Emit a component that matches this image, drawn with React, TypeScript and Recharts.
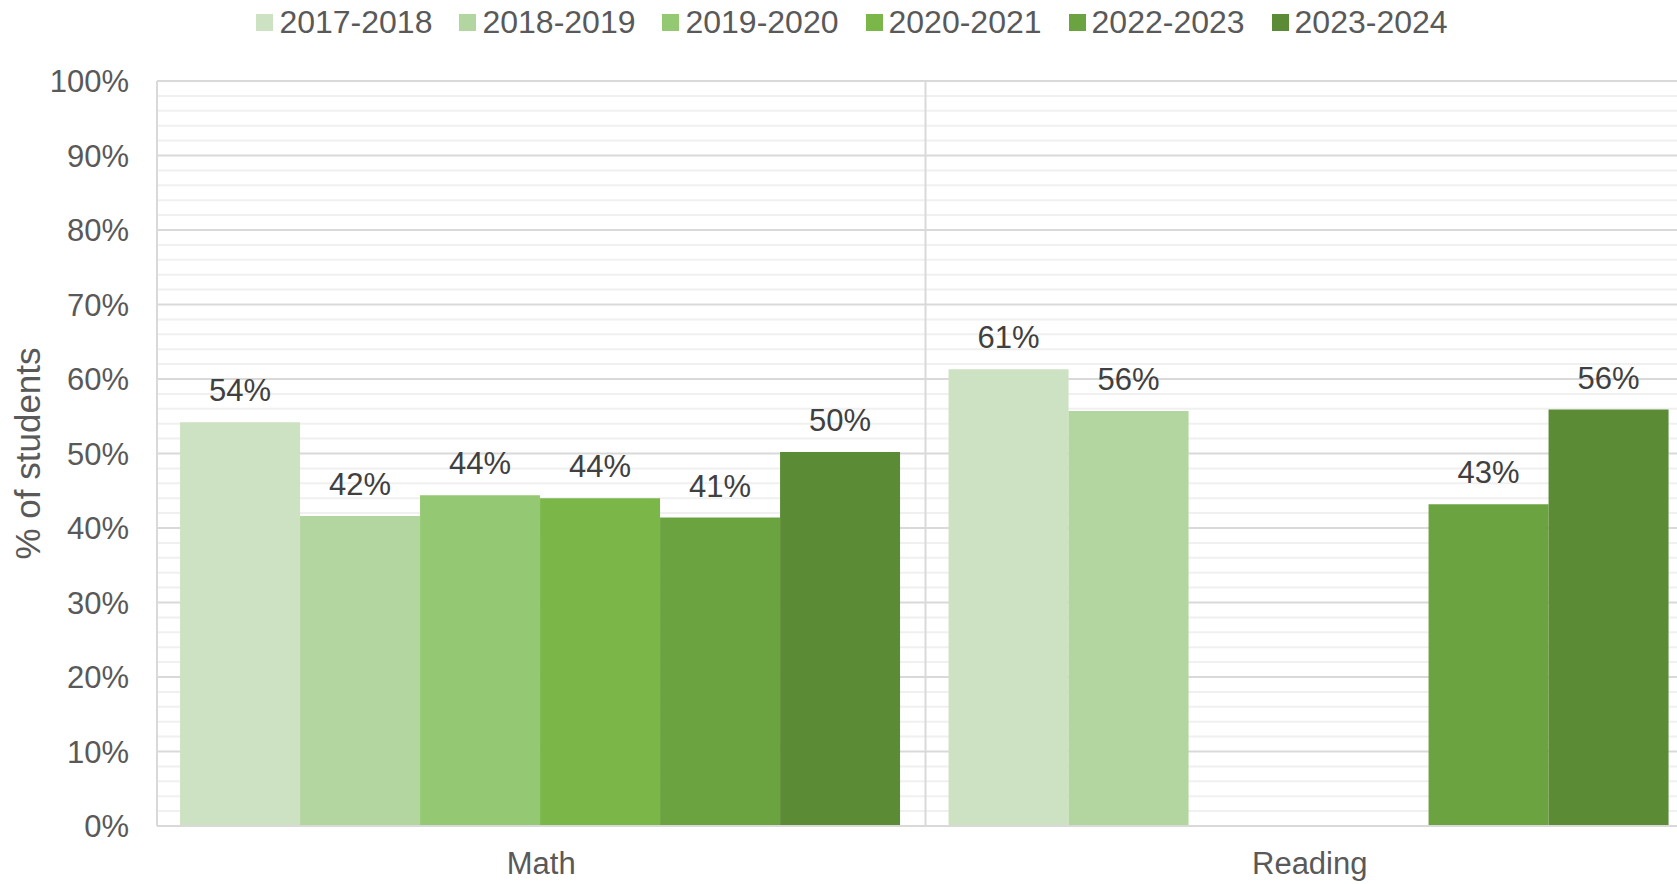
import React from "react";
import { BarChart, Bar, XAxis, YAxis, CartesianGrid, Legend, LabelList } from "recharts";

const subjects = ["Math", "Reading"];
const years = ["2017-2018", "2018-2019", "2019-2020", "2020-2021", "2022-2023", "2023-2024"];
const y2017 = [54.2, 61.3];
const y2018 = [41.6, 55.7];
const y2019 = [44.4, null];
const y2020 = [44.0, null];
const y2022 = [41.4, 43.2];
const y2023 = [50.2, 55.9];
const yTicks = [0, 10, 20, 30, 40, 50, 60, 70, 80, 90, 100];
const minorTicks = [2, 4, 6, 8, 12, 14, 16, 18, 22, 24, 26, 28, 32, 34, 36, 38, 42, 44, 46, 48, 52, 54, 56, 58, 62, 64, 66, 68, 72, 74, 76, 78, 82, 84, 86, 88, 92, 94, 96, 98];

const colors = ["#cde2c2", "#b3d6a0", "#94c872", "#7ab648", "#6aa33f", "#5b8c35"];
const seriesValues = [y2017, y2018, y2019, y2020, y2022, y2023];

const data = subjects.map((s, i) => {
  const row: any = { subject: s };
  years.forEach((y, j) => {
    row[y] = seriesValues[j][i];
  });
  return row;
});

const FONT = "'Liberation Sans', Arial, sans-serif";

// y position of a value, through the axis scale when it is exposed
const yPos = (yAxis: any, offset: any, v: number) => {
  const s = yAxis && yAxis.scale;
  if (typeof s === "function") return s(v);
  if (s && typeof s.map === "function") return s.map(v);
  return offset.top + offset.height * (1 - v / 100);
};

// left edge of each category band
const xBand = (xAxis: any, offset: any, i: number) => {
  const s = xAxis && xAxis.scale;
  if (typeof s === "function") return s(subjects[i]);
  if (s && typeof s.map === "function") return s.map(subjects[i]);
  return offset.left + (offset.width * i) / subjects.length;
};

const LegendBox = () => (
  <div style={{ height: 81, display: "flex", justifyContent: "center", paddingTop: 5, paddingLeft: 4, boxSizing: "border-box", fontFamily: FONT }}>
    {years.map((y, i) => (
      <div key={y} style={{ display: "flex", alignItems: "center", height: 34, marginRight: i < years.length - 1 ? 27 : 0 }}>
        <div style={{ width: 17, height: 17, background: colors[i], marginRight: 6 }} />
        <span style={{ fontSize: 32, color: "#595959", lineHeight: "34px" }}>{y}</span>
      </div>
    ))}
  </div>
);

export default function App() {
  return (
    <div style={{ position: "fixed", left: 0, top: 0, width: 1677, height: 884, overflow: "hidden", background: "#fff" }}>
      <BarChart
        width={1700}
        height={884}
        data={data}
        margin={{ top: 0, right: 6, bottom: 0, left: 0 }}
        barCategoryGap="3%"
        barGap={0}
      >
        {/* minor lines every 2% */}
        <CartesianGrid
          vertical={false}
          stroke="#f0f0f0"
          strokeWidth={2}
          horizontalCoordinatesGenerator={({ yAxis, offset }: any) => minorTicks.map((t) => yPos(yAxis, offset, t))}
        />
        {/* major lines + category divider */}
        <CartesianGrid
          stroke="#d9d9d9"
          strokeWidth={2}
          horizontalCoordinatesGenerator={({ yAxis, offset }: any) => yTicks.map((t) => yPos(yAxis, offset, t))}
          verticalCoordinatesGenerator={({ xAxis, offset }: any) => subjects.map((_, i) => xBand(xAxis, offset, i))}
        />
        <XAxis
          dataKey="subject"
          height={58}
          tickSize={0}
          tickMargin={26}
          axisLine={{ stroke: "#d9d9d9", strokeWidth: 2 }}
          tick={{ fontSize: 31, fill: "#595959", fontFamily: FONT }}
        />
        <YAxis
          width={157}
          domain={[0, 100]}
          ticks={yTicks}
          interval={0}
          tickSize={0}
          tickMargin={28}
          tickFormatter={(v: number) => `${v}%`}
          axisLine={{ stroke: "#d9d9d9", strokeWidth: 2 }}
          tick={{ fontSize: 31, fill: "#595959", fontFamily: FONT }}
          label={{
            value: "% of students",
            angle: -90,
            position: "insideLeft",
            offset: 28,
            style: { textAnchor: "middle", fontSize: 35, fill: "#595959", fontFamily: FONT },
          }}
        />
        <Legend verticalAlign="top" wrapperStyle={{ top: 0, left: 0, width: 1700 }} content={() => <LegendBox />} />
        {years.map((y, i) => (
          <Bar key={y} dataKey={y} fill={colors[i]} isAnimationActive={false}>
            <LabelList
              dataKey={y}
              position="top"
              offset={21}
              formatter={(v: any) => (v == null ? "" : `${Math.round(v)}%`)}
              style={{ fontSize: 31, fill: "#404040", fontFamily: FONT }}
            />
          </Bar>
        ))}
      </BarChart>
    </div>
  );
}
